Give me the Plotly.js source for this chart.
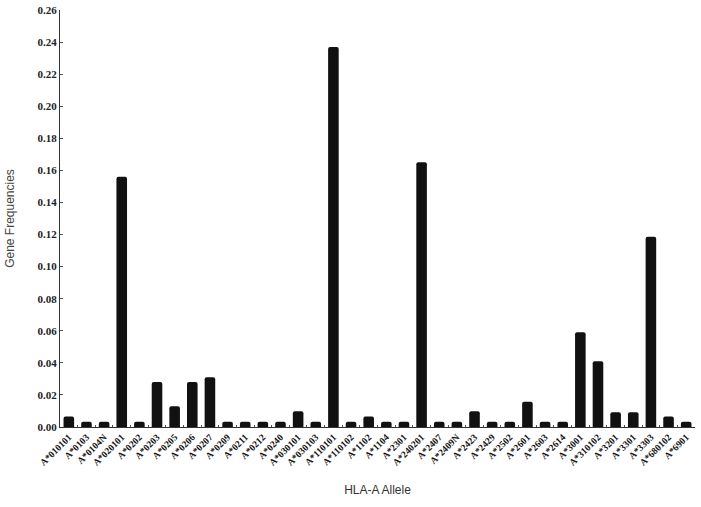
<!DOCTYPE html>
<html>
<head>
<meta charset="utf-8">
<script src="https://cdn.plot.ly/plotly-3.0.1.min.js"></script>
<style>
  html, body { margin: 0; padding: 0; background: #fff; }
  #plotly-div { width: 701px; height: 507px; }
</style>
</head>
<body>
<div id="plotly-div"></div>
<script>
var alleles = ['A*010101', 'A*0103', 'A*0104N', 'A*020101', 'A*0202', 'A*0203',
    'A*0205', 'A*0206', 'A*0207', 'A*0209', 'A*0211', 'A*0212', 'A*0240',
    'A*030101', 'A*030103', 'A*110101', 'A*110102', 'A*1102', 'A*1104',
    'A*2301', 'A*240201', 'A*2407', 'A*2409N', 'A*2423', 'A*2429', 'A*2502',
    'A*2601', 'A*2603', 'A*2614', 'A*3001', 'A*310102', 'A*3201', 'A*3301',
    'A*3303', 'A*680102', 'A*6901'];

var freqs = [0.0066, 0.0033, 0.0033, 0.156, 0.0033, 0.028,
    0.013, 0.028, 0.031, 0.0033, 0.0033, 0.0033, 0.0033,
    0.0098, 0.0033, 0.237, 0.0033, 0.0066, 0.0033,
    0.0033, 0.165, 0.0033, 0.0033, 0.0098, 0.0033, 0.0033,
    0.0158, 0.0033, 0.0033, 0.059, 0.041, 0.0092, 0.0092,
    0.1186, 0.0066, 0.0033];

var yTicks = [0, 0.02, 0.04, 0.06, 0.08, 0.10, 0.12, 0.14, 0.16, 0.18, 0.20, 0.22, 0.24, 0.26];

var trace1 = {
    x: alleles,
    y: freqs,
    type: 'bar',
    marker: {
        color: '#111111',
        cornerradius: 2,
        line: { width: 0 }
    },
    hoverinfo: 'x+y'
};

var data = [trace1];

var layout = {
    width: 701,
    height: 507,
    margin: { l: 60, r: 6, t: 10, b: 80 },
    paper_bgcolor: '#ffffff',
    plot_bgcolor: '#ffffff',
    showlegend: false,
    bargap: 0.4,
    xaxis: {
        type: 'category',
        tickangle: -45,
        tickson: 'boundaries',
        ticks: 'inside',
        ticklen: 2,
        tickcolor: '#555',
        showline: true,
        linecolor: '#333',
        linewidth: 1,
        showgrid: false,
        tickfont: { family: 'Liberation Serif, serif', size: 9.5, color: '#111', weight: 'bold' },
        title: {
            text: 'HLA-A Allele',
            font: { family: 'Liberation Sans, Arial, sans-serif', size: 12, color: '#333' },
            standoff: 18
        }
    },
    yaxis: {
        range: [0, 0.26],
        tickvals: yTicks,
        tickformat: '.2f',
        ticks: 'inside',
        ticklen: 3,
        tickcolor: '#555',
        showline: true,
        linecolor: '#333',
        linewidth: 1,
        showgrid: false,
        zeroline: false,
        tickfont: { family: 'Liberation Serif, serif', size: 11, color: '#222', weight: 'bold' },
        title: {
            text: 'Gene Frequencies',
            font: { family: 'Liberation Sans, Arial, sans-serif', size: 12, color: '#444' },
            standoff: 20
        }
    }
};

Plotly.newPlot('plotly-div', data, layout, { displayModeBar: false, staticPlot: true });
</script>
</body>
</html>
